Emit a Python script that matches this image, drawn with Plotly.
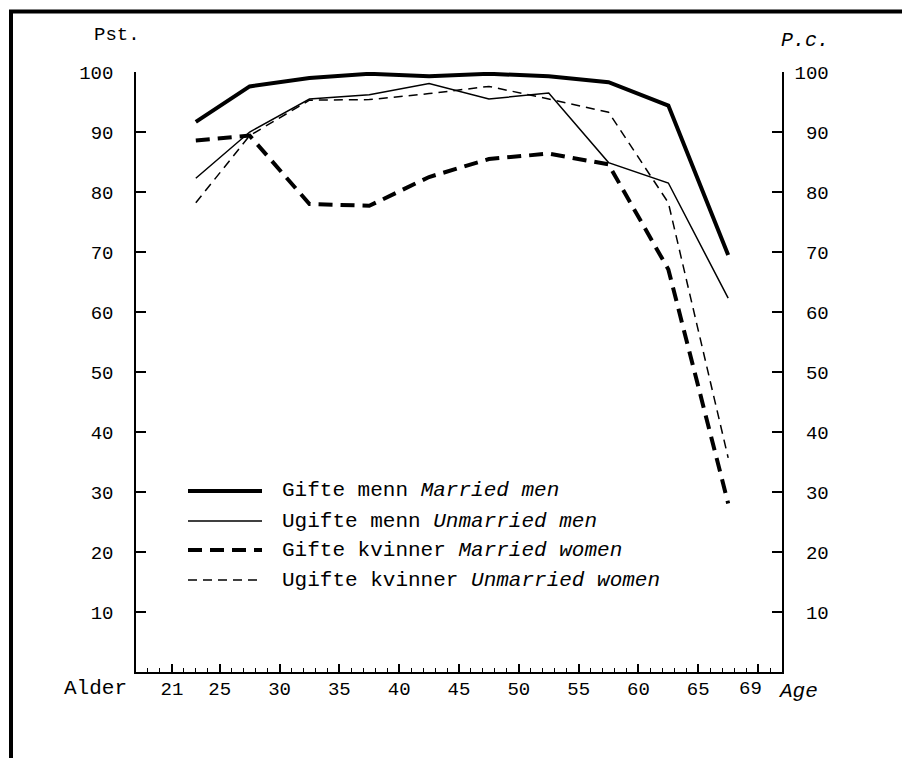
import plotly.graph_objects as go

# ---- data ----
ages = [23, 27.5, 32.5, 37.5, 42.5, 47.5, 52.5, 57.5, 62.5, 67.5]
gifte_menn = [91.7, 97.6, 99.0, 99.7, 99.3, 99.7, 99.3, 98.3, 94.4, 69.5]
ugifte_menn = [82.3, 90.0, 95.5, 96.2, 98.1, 95.5, 96.5, 84.9, 81.5, 62.3]
gifte_kvinner = [88.6, 89.4, 78.0, 77.7, 82.5, 85.5, 86.4, 84.6, 67.1, 28.1]
ugifte_kvinner = [78.2, 89.4, 95.3, 95.4, 96.4, 97.6, 95.5, 93.3, 78.2, 35.7]

x_tickvals = [21, 25, 30, 35, 40, 45, 50, 55, 60, 65, 70]
x_ticktext = ["21", "25", "30", "35", "40", "45", "50", "55", "60", "65", ""]
y_tickvals = [10, 20, 30, 40, 50, 60, 70, 80, 90, 100]
y_ticktext_left = [str(v) for v in y_tickvals]
y_ticktext_right = [str(v).rjust(3, "\u00a0") for v in y_tickvals]

series = [
    ("Gifte menn", "Married men", gifte_menn, 4, "solid"),
    ("Ugifte menn", "Unmarried men", ugifte_menn, 1.5, "solid"),
    ("Gifte kvinner", "Married women", gifte_kvinner, 4, "14px,8px"),
    ("Ugifte kvinner", "Unmarried women", ugifte_kvinner, 1.5, "9px,6px"),
]

FONT = "Liberation Mono"
W, H = 902, 758
L, R, T, B = 136, 120, 72, 86
PW, PH = W - L - R, H - T - B


def px(xp):
    return (xp - L) / PW


def py(yp):
    return (H - B - yp) / PH


fig = go.Figure()
for no, en, vals, w, dash in series:
    fig.add_trace(go.Scatter(
        x=ages, y=vals, mode="lines", name=f"{no} {en}",
        line=dict(color="black", width=w, dash=dash),
        showlegend=False,
    ))

# invisible trace so the right-hand axis is drawn
fig.add_trace(go.Scatter(x=[None], y=[None], yaxis="y2", showlegend=False,
                         hoverinfo="skip"))

axis_common = dict(showgrid=False, zeroline=False, showline=True,
                   linecolor="black", linewidth=1.5, ticks="inside",
                   tickcolor="black", tickwidth=1.5)

fig.update_layout(
    width=W, height=H,
    margin=dict(l=L, r=R, t=T, b=B),
    paper_bgcolor="white", plot_bgcolor="white",
    font=dict(family=FONT, size=19, color="black"),
    xaxis=dict(range=[18, 72], tickmode="array", tickvals=x_tickvals,
               ticktext=x_ticktext, ticklen=8,
               ticklabelstandoff=-2,
               minor=dict(dtick=1, tick0=0, ticks="inside", ticklen=4,
                          tickcolor="black", tickwidth=1.2),
               tickfont=dict(family=FONT, size=19),
               **axis_common),
    yaxis=dict(range=[0, 100], tickmode="array", tickvals=y_tickvals,
               ticktext=y_ticktext_left, ticklen=10,
               ticklabelstandoff=17,
               tickfont=dict(family=FONT, size=19),
               **axis_common),
    yaxis2=dict(range=[0, 100], overlaying="y", side="right",
                tickmode="array", tickvals=y_tickvals,
                ticktext=y_ticktext_right, ticklen=10,
                ticklabelstandoff=7,
                tickfont=dict(family=FONT, size=19),
                **axis_common),
)

annotations = [
    dict(x=px(92), y=py(35), text="Pst.", xanchor="left"),
    dict(x=px(779), y=py(40), text="<i>P.c.</i>", xanchor="left",
         font=dict(size=20)),
    dict(x=px(62), y=py(688), text="Alder", xanchor="left",
         font=dict(size=21)),
    dict(x=px(776), y=py(691), text="<i>Age</i>", xanchor="left",
         font=dict(size=21)),
    dict(x=69.4, xref="x", y=py(689), text="69", xanchor="center"),
]

legend_rows = [491, 521, 550, 580]
for (no, en, vals, w, dash), yy in zip(series, legend_rows):
    fig.add_shape(type="line", xref="paper", yref="paper",
                  x0=px(188), x1=px(262), y0=py(yy), y1=py(yy),
                  line=dict(color="black", width=w, dash=dash))
    annotations.append(dict(x=px(280), y=py(yy), text=f"{no} <i>{en}</i>",
                            xanchor="left", font=dict(size=21)))

for a in annotations:
    a.setdefault("xref", "paper")
    a["yref"] = "paper"
    a["yanchor"] = "middle"
    a["showarrow"] = False
    a.setdefault("font", dict(size=19))
    a["font"]["family"] = FONT
    a["font"]["color"] = "black"
fig.update_layout(annotations=annotations)

# outer frame
fig.add_shape(type="rect", xref="paper", yref="paper",
              x0=px(11), x1=px(930), y0=py(11.5), y1=py(790),
              line=dict(color="black", width=4), fillcolor="rgba(0,0,0,0)",
              layer="below")

fig.write_html(
    "out.html",
    config={"displayModeBar": False},
    post_script="document.body.style.margin='0';"
                "document.body.style.padding='0';"
                "document.body.style.overflow='hidden';"
                "document.documentElement.style.overflow='hidden';",
)
